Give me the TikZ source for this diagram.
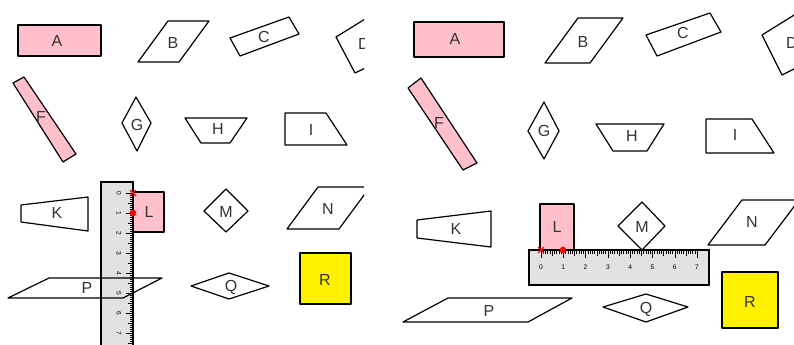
\documentclass[tikz,border=0pt]{standalone}
\usepackage{fontspec}
\setmainfont{Liberation Sans}
\definecolor{shapepink}{RGB}{255,192,203}
\definecolor{rulergrey}{RGB}{226,226,226}
\begin{document}
\begin{tikzpicture}[x=0.75pt,y=-0.75pt,
	fig/.style={draw, line width=0.9pt, line join=round},
	lbl/.style={font=\fontsize{12}{14}\selectfont, text=black!80},
	rulerbox/.style={draw, line width=1.6pt, fill=rulergrey},
	tick/.style={line width=0.35pt},
	nr/.style={font=\fontsize{5}{6}\selectfont, inner sep=0pt},
	redcross/.style={draw=red, line width=1pt},
	dot/.style={circle, fill=red, inner sep=0pt, minimum size=5pt}]
	\useasboundingbox (0,0) rectangle (794,344);

	\begin{scope}
		\clip (0,0) rectangle (364,344);
		\draw[fig, fill=shapepink] 	(18,25) rectangle (101,56);
		\draw[fig] 	(138,62) -- (168,21) -- (209,21) -- (179,62) -- cycle;
		\draw[fig] 	(230,38) -- (289,17) -- (299,34) -- (240,56) -- cycle;
		\draw[fig] 	(336,37) -- (370,16) -- (382,60) -- (355,73) -- cycle;
		\draw[fig, fill=shapepink] 	(13,83) -- (24,77) -- (76,154) -- (63,162) -- cycle;
		\draw[fig] 	(136,97) -- (151,123) -- (137,151) -- (122,123) -- cycle;
		\draw[fig] 	(185,118) -- (247,118) -- (230,143) -- (201,143) -- cycle;
		\draw[fig] 	(285,113) -- (326,113) -- (347,145) -- (285,145) -- cycle;
		\draw[fig] 	(21,205) -- (88,197) -- (88,231) -- (21,222) -- cycle;
		\draw[fig] 	(226,189) -- (248,211) -- (226,232) -- (204,211) -- cycle;
		\draw[fig] 	(318,187) -- (370,187) -- (339,229) -- (287,229) -- cycle;
		\draw[fig] 	(191,286) -- (229,273) -- (269,286) -- (229,299) -- cycle;
		\draw[fig, fill=yellow] 	(300,253) rectangle (351,304);

		\draw[rulerbox] 	(101,182) rectangle (133,350);
		\foreach \i in {0,...,75}{
			\pgfmathsetmacro\tl{ifthenelse(mod(\i,10)==0,7,ifthenelse(mod(\i,5)==0,5,3))}
			\draw[tick] (133,193+2*\i) -- ++(-\tl,0);
		}
		\foreach \n in {0,...,7}
			\draw (119,193+20*\n) node[nr, rotate=-90] (lnum\n) {\n};
		\draw[fig, fill=shapepink] 	(133,192) rectangle (164,232);
		\draw[fig] 	(49,278) -- (162,278) -- (123,298) -- (8,298) -- cycle;
		\draw[redcross] 	(130,190) -- (136,196) (130,196) -- (136,190);
		\draw (133,213) 	node[dot] 	(ldot) 	{};

		\draw (57,41) 	node[lbl] 	(la) 	{A};
		\draw (173,43) 	node[lbl] 	(lb) 	{B};
		\draw (264,37) 	node[lbl] 	(lc) 	{C};
		\draw (364,44) 	node[lbl] 	(ld) 	{D};
		\draw (41,117) 	node[lbl] 	(lf) 	{F};
		\draw (137,125) 	node[lbl] 	(lg) 	{G};
		\draw (218,129) 	node[lbl] 	(lh) 	{H};
		\draw (311,130) 	node[lbl] 	(li) 	{I};
		\draw (57,213) 	node[lbl] 	(lk) 	{K};
		\draw (149,212) 	node[lbl] 	(ll) 	{L};
		\draw (226,212) 	node[lbl] 	(lm) 	{M};
		\draw (328,209) 	node[lbl] 	(ln) 	{N};
		\draw (87,288) 	node[lbl] 	(lp) 	{P};
		\draw (231,287) 	node[lbl] 	(lq) 	{Q};
		\draw (325,280) 	node[lbl] 	(lr) 	{R};
	\end{scope}

	\begin{scope}
		\clip (380,0) rectangle (794,344);
		\draw[fig, fill=shapepink] 	(414,22) rectangle (504,57);
		\draw[fig] 	(545,63) -- (578,18) -- (623,18) -- (590,63) -- cycle;
		\draw[fig] 	(646,35) -- (710,13) -- (721,32) -- (657,56) -- cycle;
		\draw[fig] 	(762,35) -- (799,12) -- (812,60) -- (782,75) -- cycle;
		\draw[fig, fill=shapepink] 	(408,88) -- (421,78) -- (477,163) -- (463,170) -- cycle;
		\draw[fig] 	(544,102) -- (559,131) -- (544,159) -- (528,131) -- cycle;
		\draw[fig] 	(596,124) -- (664,124) -- (647,151) -- (613,151) -- cycle;
		\draw[fig] 	(706,119) -- (752,119) -- (774,153) -- (706,153) -- cycle;
		\draw[fig] 	(417,220) -- (491,211) -- (491,247) -- (417,238) -- cycle;
		\draw[fig] 	(642,202) -- (665,226) -- (642,250) -- (618,226) -- cycle;
		\draw[fig] 	(742,200) -- (799,200) -- (765,245) -- (708,245) -- cycle;
		\draw[fig] 	(448,298) -- (572,298) -- (528,322) -- (403,322) -- cycle;
		\draw[fig] 	(603,307) -- (646,294) -- (688,307) -- (646,322) -- cycle;
		\draw[fig, fill=yellow] 	(722,272) rectangle (778,328);
		\draw[fig, fill=shapepink] 	(540,204) rectangle (574,251);

		\draw[rulerbox] 	(529,250) rectangle (709,285);
		\foreach \i in {0,...,70}{
			\pgfmathsetmacro\tl{ifthenelse(mod(\i,10)==0,8,ifthenelse(mod(\i,5)==0,6,3.5))}
			\draw[tick] (541+2.23*\i,250) -- ++(0,\tl);
		}
		\foreach \n in {0,...,7}
			\draw (541+22.3*\n,267) node[nr] (rnum\n) {\n};
		\draw[redcross] 	(538,247) -- (544,253) (538,253) -- (544,247);
		\draw (563,250) 	node[dot] 	(rdot) 	{};

		\draw (455,39) 	node[lbl] 	(ra) 	{A};
		\draw (583,42) 	node[lbl] 	(rb) 	{B};
		\draw (683,33) 	node[lbl] 	(rc) 	{C};
		\draw (792,43) 	node[lbl] 	(rd) 	{D};
		\draw (439,123) 	node[lbl] 	(rf) 	{F};
		\draw (544,131) 	node[lbl] 	(rg) 	{G};
		\draw (632,136) 	node[lbl] 	(rh) 	{H};
		\draw (735,135) 	node[lbl] 	(ri) 	{I};
		\draw (456,229) 	node[lbl] 	(rk) 	{K};
		\draw (557,227) 	node[lbl] 	(rl) 	{L};
		\draw (642,227) 	node[lbl] 	(rm) 	{M};
		\draw (752,222) 	node[lbl] 	(rn) 	{N};
		\draw (489,311) 	node[lbl] 	(rp) 	{P};
		\draw (646,309) 	node[lbl] 	(rq) 	{Q};
		\draw (750,302) 	node[lbl] 	(rr) 	{R};
	\end{scope}
\end{tikzpicture}
\end{document}
